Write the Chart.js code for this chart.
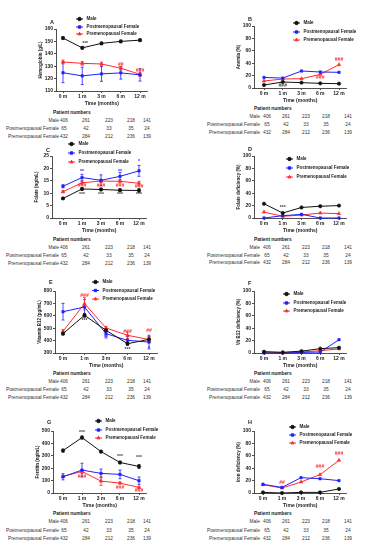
<!DOCTYPE html>
<html>
<head>
<meta charset="utf-8">
<script src="https://cdn.jsdelivr.net/npm/chart.js@4/dist/chart.umd.min.js"></script>
<style>
  body { margin: 0; background: #fff; width: 372px; height: 550px; position: relative; overflow: hidden;
         font-family: "Liberation Sans", Arial, sans-serif; }
  canvas { position: absolute; }
  .t { position: absolute; font-size: 4.8px; line-height: 6px; color: #333; white-space: nowrap; }
  .h { font-weight: bold; color: #222; }
</style>
</head>
<body>
<script>
// categories and series
const months = ['0 m', '1 m', '3 m', '6 m', '12 m'];
const seriesNames = ['Male', 'Postmenopausal Female', 'Premenopausal Female'];

// patient numbers (same table under every panel)
const patientMale = [406, 261, 223, 218, 141];
const patientPost = [65, 42, 33, 35, 24];
const patientPre = [432, 284, 212, 236, 139];

// A - hemoglobin (g/L)
const hbMale = [152.7, 144.8, 148.4, 150.0, 151.0];
const hbPost = [124.7, 122.2, 123.8, 124.6, 123.0];
const hbPre = [133.4, 132.3, 131.8, 128.4, 123.4];
const hbErr = [[1, 1, 1, 1, 1], [8, 7, 6, 5, 5], [1.5, 1.5, 1.5, 1.5, 1.5]];
const hbMarks = [['***', 'k', 1.15, 148], ['##', 'r', 3, 131], ['###', 'r', 4, 126.5]];

// B - anemia (%)
const anMale = [4.8, 9.7, 8.6, 7.5, 7];
const anPost = [17, 16, 27.4, 25.8, 25.3];
const anPre = [11.3, 14.5, 15, 22, 37.6];
const anMarks = [['###', 'k', 1, 3.5], ['###', 'r', 3, 17], ['###', 'r', 4, 46.5]];

// C - folate (ng/mL)
const foMale = [7.9, 11.7, 11.5, 11.2, 11.1];
const foPost = [12.8, 16.3, 15.2, 16.8, 19.0];
const foPre = [10.6, 14.2, 14.9, 14.8, 14.0];
const foErr = [[0.3, 0.5, 0.5, 0.6, 0.7], [0.6, 1.3, 2.2, 1.6, 2.2], [0.4, 0.6, 0.6, 0.7, 0.8]];
const foMarks = [['**', 'b', 1, 18.7], ['**', 'b', 3, 18.9], ['*', 'b', 4, 22.7],
  ['###', 'r', 1, 13], ['###', 'r', 2, 13], ['###', 'r', 3, 13], ['###', 'r', 4, 12.5],
  ['***', 'k', 1, 9.3], ['***', 'k', 2, 9.3], ['***', 'k', 3, 9.3], ['***', 'k', 4, 9.3]];

// D - folate deficiency (%)
const fdMale = [23, 8, 17, 19, 20];
const fdPost = [0, 3.7, 5.9, 0, 0];
const fdPre = [9.6, 2.7, 4.8, 8, 7];
const fdMarks = [['***', 'k', 1, 17]];

// E - vitamin B12 (pg/mL)
const b12Male = [456, 604, 483, 375, 410];
const b12Post = [633, 671, 456, 402, 388];
const b12Pre = [475, 698, 502, 443, 408];
const b12Err = [[10, 15, 12, 12, 20], [67, 60, 35, 30, 55], [15, 50, 12, 25, 20]];
const b12Marks = [['###', 'r', 1, 765], ['***', 'k', 1, 562], ['**', 'b', 2, 425], ['###', 'r', 3, 470],
  ['***', 'k', 3, 330], ['##', 'r', 4, 480], ['*', 'b', 4, 338]];

// F - vit B12 deficiency (%)
const bdMale = [2, 1, 3, 7, 8.6];
const bdPost = [0, 0, 1, 1.5, 21.5];
const bdPre = [1.6, 1, 1.6, 3.8, 6.5];

// G - ferritin (ng/mL)
const feMale = [342, 447, 334, 246, 214];
const fePost = [131, 185, 158, 150, 99];
const fePre = [134, 174, 96, 80, 45];
const feErr = [[12, 12, 10, 10, 15], [25, 55, 35, 35, 30], [8, 15, 35, 8, 8]];
const feMarks = [['***', 'k', 1, 490], ['***', 'k', 3, 293], ['***', 'k', 4, 285],
  ['###', 'r', 1, 131], ['###', 'r', 3, 43], ['###', 'r', 4, 16]];

// H - iron deficiency (%)
const idMale = [1, 0, 1, 1, 6.5];
const idPost = [14, 9, 24.7, 23, 20];
const idPre = [13.4, 8, 17.7, 29.6, 52.7];
const idMarks = [['##', 'r', 1, 17], ['###', 'r', 3, 42], ['###', 'r', 4, 63]];

const colors = ['#111111', '#1f1fff', '#ff2b2b'];
const markColors = { k: '#444444', b: '#1f1fff', r: '#ff2b2b' };
const styles = ['circle', 'rect', 'triangle'];
const FONT = '"Liberation Sans", Arial, sans-serif';
Chart.defaults.font.family = FONT;

const left = { nameRight: 59, vals: [64, 86, 109, 131, 147], titleX: 53 };
const right = { nameRight: 260, vals: [267, 286, 306, 326, 348], titleX: 254 };

const panels = [
  { id: 'A', col: 0, row: 0, axisX: 56, top: 29, bottom: 91, x0: 63, x4: 140, yMin: 110, yMax: 160, step: 10,
    yTitle: 'Hemoglobin (g/L)', series: [hbMale, hbPost, hbPre], err: hbErr, marks: hbMarks,
    legX: 76, legY: [19, 27, 34], letterY: 22, tab: left, tabY: [113, 121, 129, 137] },
  { id: 'B', col: 186, row: 0, axisX: 254, top: 26, bottom: 88, x0: 264, x4: 339, yMin: 0, yMax: 100, step: 20,
    yTitle: 'Anemia (%)', series: [anMale, anPost, anPre], err: null, marks: anMarks,
    legX: 293, legY: [23, 32, 40], letterY: 19, tab: right, tabY: [109, 117, 125, 133] },
  { id: 'C', col: 0, row: 135, axisX: 52, top: 156, bottom: 218, x0: 63, x4: 139, yMin: 0, yMax: 25, step: 5,
    yTitle: 'Folate (ng/mL)', series: [foMale, foPost, foPre], err: foErr, marks: foMarks,
    legX: 68, legY: [144, 153, 162], letterY: 150, tab: left, tabY: [240, 248, 256, 264] },
  { id: 'D', col: 186, row: 135, axisX: 254, top: 156, bottom: 218, x0: 264, x4: 339, yMin: 0, yMax: 100, step: 20,
    yTitle: 'Folate deficiency (%)', series: [fdMale, fdPost, fdPre], err: null, marks: fdMarks,
    legX: 286, legY: [159, 168, 177], letterY: 149, tab: right, tabY: [240, 248, 256, 263] },
  { id: 'E', col: 0, row: 270, axisX: 55, top: 291, bottom: 353, x0: 63, x4: 149, yMin: 300, yMax: 800, step: 100,
    yTitle: 'Vitamin B12 (pg/mL)', series: [b12Male, b12Post, b12Pre], err: b12Err, marks: b12Marks,
    legX: 92, legY: [282, 290.5, 299], letterY: 282, tab: left, tabY: [374, 382, 390, 398] },
  { id: 'F', col: 186, row: 270, axisX: 254, top: 291, bottom: 353, x0: 264, x4: 339, yMin: 0, yMax: 100, step: 20,
    yTitle: 'Vit B12 deficiency (%)', series: [bdMale, bdPost, bdPre], err: null, marks: [],
    legX: 283, legY: [294, 303, 311], letterY: 283, tab: right, tabY: [374, 382, 390, 398] },
  { id: 'G', col: 0, row: 405, axisX: 53, top: 431, bottom: 493, x0: 63, x4: 139, yMin: 0, yMax: 500, step: 100,
    yTitle: 'Ferritin (ng/mL)', series: [feMale, fePost, fePre], err: feErr, marks: feMarks,
    legX: 95, legY: [421, 430, 438], letterY: 422, tab: left, tabY: [514, 522, 531, 539] },
  { id: 'H', col: 186, row: 405, axisX: 254, top: 431, bottom: 493, x0: 263, x4: 339, yMin: 0, yMax: 100, step: 20,
    yTitle: 'Iron deficiency (%)', series: [idMale, idPost, idPre], err: null, marks: idMarks,
    legX: 289, legY: [427, 435, 443], letterY: 422, tab: right, tabY: [514, 522, 531, 539] }
];

function addText(txt, x, y, cls, align) {
  const d = document.createElement('div');
  d.className = 't' + (cls ? ' ' + cls : '');
  d.textContent = txt;
  d.style.top = (y - 3) + 'px';
  if (align === 'right') d.style.right = (372 - x) + 'px';
  else if (align === 'center') { d.style.left = x + 'px'; d.style.transform = 'translateX(-50%)'; }
  else d.style.left = x + 'px';
  document.body.appendChild(d);
}

function patientTable(p) {
  const rows = [patientMale, patientPost, patientPre];
  addText('Patient numbers', p.tab.titleX, p.tabY[0], 'h');
  rows.forEach((vals, k) => {
    addText(seriesNames[k], p.tab.nameRight, p.tabY[k + 1], '', 'right');
    vals.forEach((v, i) => addText(String(v), p.tab.vals[i], p.tabY[k + 1], '', 'center'));
  });
}

function makeChart(p) {
  const cv = document.createElement('canvas');
  const h = p.bottom - p.row + 16;
  cv.width = 186; cv.height = h;
  cv.style.left = p.col + 'px'; cv.style.top = p.row + 'px';
  cv.style.width = '186px'; cv.style.height = h + 'px';
  document.body.appendChild(cv);

  const sp = (p.x4 - p.x0) / 4;
  const xMin = (p.axisX - p.x0) / sp;
  const xMax = 4.4;
  const rightEdge = p.x4 + 0.4 * sp;
  const tickFont = { size: 5, weight: 'bold', family: FONT };

  const datasets = p.series.map((vals, k) => ({
    label: seriesNames[k],
    data: vals.map((v, i) => ({ x: i, y: v })),
    borderColor: colors[k],
    backgroundColor: colors[k],
    pointStyle: styles[k],
    pointRadius: k === 2 ? 2 : 1.7,
    pointBorderWidth: 0.6,
    borderWidth: 1,
    tension: 0,
    clip: false
  }));

  const extras = {
    id: 'extras' + p.id,
    beforeDatasetsDraw(chart) {
      if (!p.err) return;
      const ctx = chart.ctx, xs = chart.scales.x, ys = chart.scales.y;
      ctx.save();
      ctx.lineWidth = 0.8;
      p.series.forEach((vals, k) => {
        ctx.strokeStyle = colors[k];
        vals.forEach((v, i) => {
          const x = xs.getPixelForValue(i);
          const y1 = ys.getPixelForValue(v + p.err[k][i]);
          const y2 = ys.getPixelForValue(v - p.err[k][i]);
          ctx.beginPath();
          ctx.moveTo(x, y1); ctx.lineTo(x, y2);
          ctx.moveTo(x - 1.5, y1); ctx.lineTo(x + 1.5, y1);
          ctx.moveTo(x - 1.5, y2); ctx.lineTo(x + 1.5, y2);
          ctx.stroke();
        });
      });
      ctx.restore();
    },
    afterDraw(chart) {
      const ctx = chart.ctx, xs = chart.scales.x, ys = chart.scales.y;
      ctx.save();
      // significance marks
      ctx.font = 'bold 5px ' + FONT;
      ctx.textAlign = 'center';
      ctx.textBaseline = 'middle';
      p.marks.forEach(m => {
        ctx.fillStyle = markColors[m[1]];
        ctx.fillText(m[0], xs.getPixelForValue(m[2]), ys.getPixelForValue(m[3]));
      });
      // legend
      ctx.textAlign = 'left';
      ctx.font = 'bold 4.5px ' + FONT;
      seriesNames.forEach((name, k) => {
        const y = p.legY[k] - p.row;
        const x = p.legX - p.col;
        ctx.strokeStyle = colors[k];
        ctx.fillStyle = colors[k];
        ctx.lineWidth = 1;
        ctx.beginPath(); ctx.moveTo(x, y); ctx.lineTo(x + 7, y); ctx.stroke();
        Chart.helpers.drawPoint(ctx, { pointStyle: styles[k], radius: 1.7, borderWidth: 0.6 }, x + 3.5, y);
        ctx.fillStyle = '#222';
        ctx.fillText(name, x + 10.5, y);
      });
      // panel letter
      ctx.font = 'bold 5.5px ' + FONT;
      ctx.fillStyle = '#222';
      ctx.fillText(p.id, p.axisX - p.col - 6, p.letterY - p.row);
      ctx.restore();
    }
  };

  new Chart(cv, {
    type: 'line',
    data: { datasets },
    options: {
      responsive: false,
      animation: false,
      devicePixelRatio: 1,
      layout: { padding: { left: p.axisX - p.col - 18, right: p.col + 186 - rightEdge, top: p.top - p.row, bottom: 0 } },
      plugins: { legend: { display: false }, tooltip: { enabled: false } },
      scales: {
        x: {
          type: 'linear', min: xMin, max: xMax,
          afterBuildTicks: s => { s.ticks = months.map((m, i) => ({ value: i })); },
          afterFit: s => { s.height = 16; },
          ticks: { callback: v => months[v], font: tickFont, color: '#222', padding: 1, autoSkip: false, maxRotation: 0 },
          grid: { drawOnChartArea: false, tickLength: 2, color: '#222', lineWidth: 0.8 },
          border: { color: '#222', width: 0.8 },
          title: { display: true, text: 'Time (months)', font: tickFont, color: '#222', padding: 0 }
        },
        y: {
          min: p.yMin, max: p.yMax,
          afterFit: s => { s.width = 18; },
          ticks: { stepSize: p.step, font: tickFont, color: '#222', padding: 1 },
          grid: { drawOnChartArea: false, tickLength: 2, color: '#222', lineWidth: 0.8 },
          border: { color: '#222', width: 0.8 },
          title: { display: true, text: p.yTitle, font: { size: 4.5, weight: 'bold', family: FONT }, color: '#222', padding: 0 }
        }
      }
    },
    plugins: [extras]
  });
}

panels.forEach(p => { makeChart(p); patientTable(p); });
</script>
</body>
</html>
